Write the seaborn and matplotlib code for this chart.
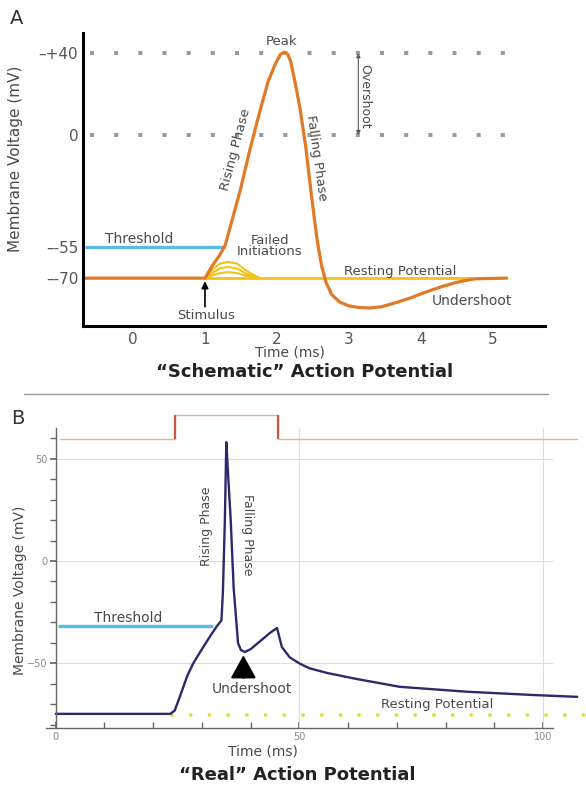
import numpy as np
import pandas as pd
import seaborn as sns
import matplotlib.pyplot as plt
from matplotlib.lines import Line2D
from matplotlib.ticker import FixedLocator

sns.set_theme(style="white")
plt.rcParams['font.family'] = ['DejaVu Sans']

# --- Panel A: schematic action potential (time ms, voltage mV) ---
A_TIME = [-0.67, 1.0, 1.1, 1.2, 1.28, 1.35, 1.49, 1.625, 1.75, 1.875, 1.98, 2.05, 2.1,
          2.15, 2.19, 2.25, 2.32, 2.4, 2.48, 2.56, 2.62, 2.68, 2.76, 2.87, 3.0, 3.15,
          3.29, 3.45, 3.65, 3.85, 4.05, 4.3, 4.5, 4.64, 4.75, 5.19]
A_VOLT = [-70, -70, -64, -59, -54, -45, -27, -7, 10, 26, 35, 39.5, 40.5,
          39.5, 36, 26, 13, -6, -30, -52, -64, -72, -78, -81.7, -83.6, -84.4,
          -84.6, -84, -82, -79.7, -77, -74, -72, -71, -70.3, -70]
FAILED_TIME = [1.0, 1.1, 1.2, 1.32, 1.45, 1.58, 1.76]
FAILED_VOLT = [
    [-70, -66, -63, -62, -63, -66.5, -70],
    [-70, -67.5, -65.3, -64.5, -65.3, -68, -70],
    [-70, -68.7, -67.6, -67, -67.6, -69, -70],
]
A_THRESHOLD = -55
A_THRESH_SPAN = [-0.67, 1.28]
A_REST = -70
A_REST_SPAN = [1.0, 4.7]
A_DOTTED = [40, 0]
A_DOTTED_SPAN = [-0.6, 5.2]
A_XTICKS = [0, 1, 2, 3, 4, 5]
A_YTICKS = [40, 0, -55, -70]
A_YTICKLABELS = ['–+40', '0', '–-55', '–-70']

# --- Panel B: recorded action potential ---
B_TIME = [0, 23.5, 24.4, 25.5, 27, 28.2, 30, 31.6, 33, 34.0, 34.3, 34.7, 35.0, 35.3,
          35.9, 36.5, 37.4, 38.0, 38.8, 40, 42, 44, 45.4, 46.4, 48, 50, 52, 55.6,
          61.8, 70.6, 84.4, 98, 107]
B_VOLT = [-74.6, -74.6, -73, -66, -56, -50, -43, -37, -32, -29, -15, 20, 58, 45,
          20, -13, -40, -43.5, -44.4, -43, -39, -35, -32.7, -42, -47, -50, -52.3, -54.6,
          -57.6, -61.4, -63.8, -65.4, -66.3]
STIM_TIME = [0.8, 24.4, 24.4, 45.6, 45.6, 107]
STIM_LEVEL = [59.5, 59.5, 71.2, 71.2, 59.5, 59.5]
STIM_EDGES = [24.4, 45.6]
B_THRESHOLD = -31.7
B_THRESH_SPAN = [0.5, 32.2]
B_REST = -75
B_REST_SPAN = [23.8, 109]
B_XTICKS = [0, 50, 100]
B_XMINOR = [10, 20, 30, 40, 60, 70, 80, 90]
B_YTICKS = [-50, 0, 50]
B_YMINOR = [-80, -70, -60, -40, -30, -20, -10, 10, 20, 30, 40, 60]

ORANGE = '#E07A26'
YELLOW = '#F2C31A'
BLUE = '#5DB9E6'
NAVY = '#2A2A6C'
TXT = '#4a4a4a'

fig = plt.figure(figsize=(5.86, 7.85), dpi=100)

# ---------------- Panel A ----------------
axA = fig.add_axes([83 / 586, 1 - 326 / 785, 462 / 586, 293 / 785])
axA.set_xlim(-0.694, 5.722)
axA.set_ylim(-93.4, 49.9)

for lvl in A_DOTTED:
    axA.plot(A_DOTTED_SPAN, [lvl, lvl], color='#9a9a9a', lw=2.9,
             linestyle=(0, (1, 5.0)), dash_capstyle='butt')

axA.plot(A_THRESH_SPAN, [A_THRESHOLD] * 2, color=BLUE, lw=2.4, solid_capstyle='butt')
axA.plot(A_REST_SPAN, [A_REST] * 2, color=YELLOW, lw=2.0)
for fv in FAILED_VOLT:
    sns.lineplot(x=FAILED_TIME, y=fv, sort=False, estimator=None, ax=axA, color=YELLOW, lw=1.5)
sns.lineplot(x=A_TIME, y=A_VOLT, sort=False, estimator=None, ax=axA, color=ORANGE, lw=2.3)

axA.set_xticks(A_XTICKS)
axA.set_yticks(A_YTICKS)
axA.set_yticklabels(A_YTICKLABELS)
axA.tick_params(axis='both', length=0, labelsize=11, labelcolor='#555555')
axA.tick_params(axis='y', pad=3.5)
axA.tick_params(axis='x', pad=4)
for s in ['top', 'right']:
    axA.spines[s].set_visible(False)
for s in ['left', 'bottom']:
    axA.spines[s].set_color('black')
    axA.spines[s].set_linewidth(2.2)

axA.set_xlabel('Time (ms)', fontsize=10, color=TXT)
axA.xaxis.set_label_coords(0.448, -0.092)
axA.xaxis.label.set_va('center')
axA.set_ylabel('Membrane Voltage (mV)', fontsize=11, color=TXT)
axA.yaxis.set_label_coords(-0.147, 0.57)
axA.yaxis.label.set_va('center')
axA.text(0.48, -0.157, '“Schematic” Action Potential', transform=axA.transAxes,
         ha='center', va='center', fontsize=13, fontweight='bold', color='#222222')

tk = dict(color=TXT, ha='center', va='center')
axA.text(2.07, 45.5, 'Peak', fontsize=9.5, **tk)
axA.text(1.42, -7.3, 'Rising Phase', fontsize=9.5, rotation=75, **tk)
axA.text(2.55, -11.2, 'Falling Phase', fontsize=9.5, rotation=-82, **tk)
axA.annotate('', xy=(3.13, 40), xytext=(3.13, 0),
             arrowprops=dict(arrowstyle='<|-|>', color='#555555', lw=0.8, mutation_scale=6,
                             shrinkA=0, shrinkB=0))
axA.text(3.22, 19, 'Overshoot', fontsize=9, rotation=-90, **tk)
axA.text(-0.39, -50.8, 'Threshold', fontsize=10, color=TXT, ha='left', va='center')
axA.text(1.9, -54.3, 'Failed\nInitiations', fontsize=9.5, linespacing=0.85, **tk)
axA.text(3.71, -66.8, 'Resting Potential', fontsize=9.5, **tk)
axA.text(4.71, -81.2, 'Undershoot', fontsize=10, **tk)
axA.annotate('', xy=(1.0, -71.5), xytext=(1.0, -84),
             arrowprops=dict(arrowstyle='-|>', color='black', lw=1.2, mutation_scale=10,
                             shrinkA=0, shrinkB=0))
axA.text(1.01, -88.3, 'Stimulus', fontsize=9.5, **tk)

# ---------------- Panel B ----------------
axB = fig.add_axes([46 / 586, 1 - 728 / 785, 540 / 586, 318 / 785])
axB.set_xlim(-2, 108.8)
axB.set_ylim(-81.5, 73.7)

axB.hlines(B_YTICKS, 0, 102, color='#dddddd', lw=0.8)
axB.vlines(B_XTICKS[1:], -81.5, 65, color='#dddddd', lw=0.8)

axB.plot(STIM_TIME, STIM_LEVEL, color='#E8AE9E', lw=1.0)
axB.vlines(STIM_EDGES, STIM_LEVEL[0], STIM_LEVEL[2], color='#D0573F', lw=1.6)

axB.plot(B_REST_SPAN, [B_REST] * 2, color='#E6DC30', lw=2.8,
         linestyle=(0, (0.01, 4.8)), dash_capstyle='round', clip_on=False)
axB.plot(B_THRESH_SPAN, [B_THRESHOLD] * 2, color=BLUE, lw=2.4, solid_capstyle='butt')
sns.lineplot(x=B_TIME, y=B_VOLT, sort=False, estimator=None, ax=axB, color=NAVY, lw=1.7)

axB.spines['left'].set_position(('data', 0))
axB.spines['left'].set_bounds(-81.5, 65)
axB.spines['bottom'].set_bounds(-2, 102)
for s in ['top', 'right']:
    axB.spines[s].set_visible(False)
for s in ['left', 'bottom']:
    axB.spines[s].set_color('#666666')
    axB.spines[s].set_linewidth(1.0)

axB.set_xticks(B_XTICKS)
axB.xaxis.set_minor_locator(FixedLocator(B_XMINOR))
axB.set_yticks(B_YTICKS)
axB.yaxis.set_minor_locator(FixedLocator(B_YMINOR))
axB.tick_params(axis='x', which='both', direction='in', length=4, color='#666666',
                labelsize=7, labelcolor='#888888', pad=3, bottom=True)
axB.tick_params(axis='y', which='both', direction='out', length=4, color='#666666',
                labelsize=7, labelcolor='#888888', pad=2, left=True)

axB.set_xlabel('Time (ms)', fontsize=10, color=TXT)
axB.xaxis.set_label_coords(0.402, -0.075)
axB.xaxis.label.set_va('center')
axB.set_ylabel('Membrane Voltage (mV)', fontsize=10, color=TXT)
axB.yaxis.set_label_coords(-0.048, 0.434)
axB.yaxis.label.set_va('center')
axB.text(0.465, -0.148, '“Real” Action Potential', transform=axB.transAxes,
         ha='center', va='center', fontsize=13, fontweight='bold', color='#222222')

axB.text(14.8, -27.8, 'Threshold', fontsize=10, **tk)
axB.text(31, 17, 'Rising Phase', fontsize=9, rotation=90, **tk)
axB.text(39.4, 12.7, 'Falling Phase', fontsize=9, rotation=-90, **tk)
axB.annotate('', xy=(38.5, -46), xytext=(38.5, -57),
             arrowprops=dict(arrowstyle='-|>,head_width=0.5,head_length=0.9', color='black',
                             lw=1.5, mutation_scale=16, shrinkA=0, shrinkB=0))
axB.text(40.2, -62.5, 'Undershoot', fontsize=10, **tk)
axB.text(78.3, -70.2, 'Resting Potential', fontsize=9.5, **tk)

# panel letters and separator
fig.text(17 / 586, 1 - 19 / 785, 'A', fontsize=14, color='#333333', ha='center', va='center')
fig.text(18 / 586, 1 - 418 / 785, 'B', fontsize=14, color='#333333', ha='center', va='center')
fig.add_artist(Line2D([24 / 586, 548 / 586], [1 - 394 / 785] * 2, transform=fig.transFigure,
                      color='#999999', lw=1.0))

fig.savefig('out.png', dpi=100)
